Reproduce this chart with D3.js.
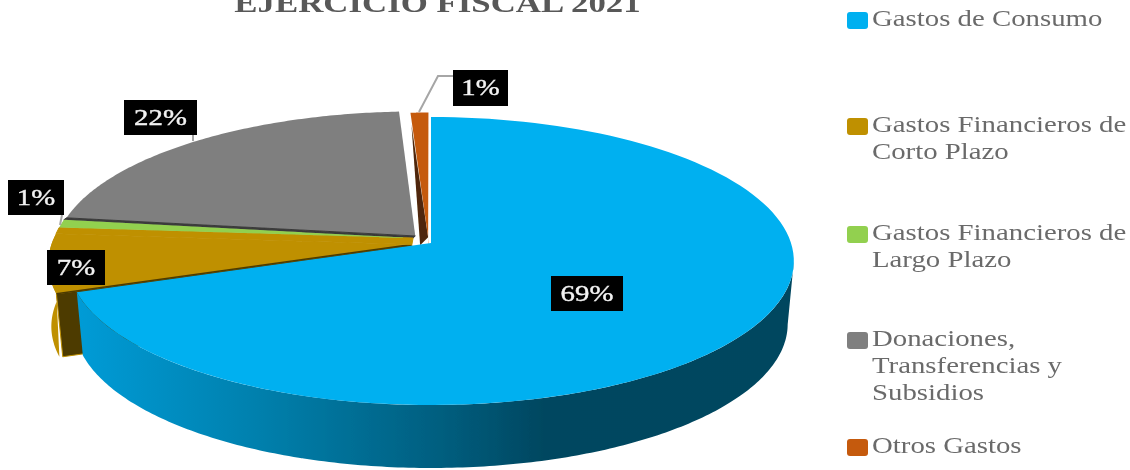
<!DOCTYPE html>
<html>
<head>
<meta charset="utf-8">
<script src="https://cdn.jsdelivr.net/npm/d3@7"></script>
<style>
	html, body { margin: 0; padding: 0; background: #fff; overflow: hidden; }
	svg { display: block; }
	text { font-family: "Liberation Serif", serif; }
</style>
</head>
<body>
<svg id="chart" width="1130" height="470"></svg>
<script>
const categories = ["Gastos de Consumo", "Gastos Financieros de Corto Plazo", "Gastos Financieros de Largo Plazo", "Donaciones, Transferencias y Subsidios", "Otros Gastos"];
const legendLines = [["Gastos de Consumo"], ["Gastos Financieros de", "Corto Plazo"], ["Gastos Financieros de", "Largo Plazo"], ["Donaciones,", "Transferencias y", "Subsidios"], ["Otros Gastos"]];
const values = [69.6, 6.6, 0.9, 22.0, 0.9];
const percentLabels = ["69%", "7%", "1%", "22%", "1%"];
const colors = ["#00b0f0", "#bf9000", "#92d050", "#7f7f7f", "#c55a11"];
const title = "EJERCICIO FISCAL 2021";

// disc -> screen, a plain perspective so the near side of the pie looks bigger
const cx = 431, cy = 243, R = 360, Rk = 141.75, persp = -0.125;
const depth = 63, shrink = 0.983;
// how far each slice is pulled out, in disc units
const explode = [[0, 0], [-0.053, 0.01], [-0.05, -0.035], [-0.044, -0.05], [-0.008, -0.04]];

function project(u, v) {
	const w = 1 + persp * v;
	return [cx + R * u / w, cy + Rk * v / w];
}
function lower(p, s = shrink) {
	return [cx + (p[0] - cx) * s, p[1] + depth];
}

const root = d3.select("#chart");
const defs = root.append("defs");

// the original is a slightly soft screenshot
defs.append("filter").attr("id", "soft")
	.attr("filterUnits", "userSpaceOnUse")
	.attr("x", 0).attr("y", 0).attr("width", 1130).attr("height", 470)
	.append("feGaussianBlur").attr("stdDeviation", 0.45);

const svg = root.append("g").attr("filter", "url(#soft)");

const sideGrad = defs.append("linearGradient")
	.attr("id", "side")
	.attr("gradientUnits", "userSpaceOnUse")
	.attr("x1", 79).attr("x2", 795).attr("y1", 0).attr("y2", 0);
[[0, "#009bd6"], [0.25, "#0080ad"], [0.5, "#005f80"], [0.65, "#004760"], [1, "#00465f"]].forEach(s => {
	sideGrad.append("stop").attr("offset", s[0]).attr("stop-color", s[1]);
});

const pie = d3.pie().sort(null).value(d => d);
const slices = pie(values).map((d, i) => {
	const off = explode[i];
	const at = a => project(Math.sin(a) + off[0], -Math.cos(a) + off[1]);
	const rim = d3.range(0, 121).map(k => at(d.startAngle + (d.endAngle - d.startAngle) * k / 120));
	return { i: i, start: d.startAngle, end: d.endAngle, at: at, rim: rim, apex: project(off[0], off[1]) };
});

const poly = d3.line();
const last = a => a[a.length - 1];

function fillBetween(a, b, color) {
	svg.append("path")
		.attr("d", poly([a.apex, last(a.rim), b.rim[0], b.apex]) + "Z")
		.attr("fill", color)
		.attr("stroke", color).attr("stroke-width", 1);
}

function drawSlice(s) {
	const color = colors[s.i];

	// outer wall, only the two slices that face us show one
	if (s.i == 0) {
		// start where the rim is widest on the right
		const wall = d3.range(0, 201).map(k => s.at(1.7 + (s.end - 1.7) * k / 200));
		svg.append("path")
			.attr("d", poly(wall.concat(wall.map(p => lower(p)).reverse())) + "Z")
			.attr("fill", "url(#side)");
	}
	if (s.i == 1) {
		svg.append("path")
			.attr("d", poly(s.rim.concat(s.rim.map(p => lower(p, 0.992)).reverse())) + "Z")
			.attr("fill", color);
		// cut face going down from the edge of the slice
		const a = s.rim[0], b = s.apex;
		svg.append("path")
			.attr("d", poly([a, b, lower(b), lower(a)]) + "Z")
			.attr("fill", "#4d3b00")
			.attr("stroke", color);
	}
	if (s.i == 4) {
		const a = s.rim[0], b = s.apex;
		svg.append("path")
			.attr("d", poly([b, lower(b), [b[0] + 3, b[1] + depth]]) + "Z")
			.attr("fill", color);
		svg.append("path")
			.attr("d", poly([[a[0] + 1, a[1] + 12], b, [b[0] - 8, b[1] + 8]]) + "Z")
			.attr("fill", "#4f2808");
	}

	// top face
	svg.append("path")
		.attr("d", poly([s.apex].concat(s.rim)) + "Z")
		.attr("fill", color);

	if (s.i == 1) {
		svg.append("path")
			.attr("d", poly([s.rim[0], s.apex]))
			.attr("stroke", "#4d3b00").attr("stroke-width", 1.5).attr("fill", "none");
	}
}

// back to front
drawSlice(slices[3]);
fillBetween(slices[2], slices[3], "#3a3a3a");
drawSlice(slices[1]);
fillBetween(slices[1], slices[2], colors[1]);
drawSlice(slices[2]);
drawSlice(slices[4]);
drawSlice(slices[0]);

// leader lines and label boxes
const labelBoxes = [[551, 276, 72, 35], [47, 250, 58, 35], [8, 180, 56, 35], [124, 100, 73, 35], [453, 70, 55, 36]];
const leaders = [null, null, [[62, 215], [60, 225]], [[193, 135], [193, 141]], [[453, 76], [438, 76], [419, 112]]];

leaders.forEach(l => {
	if (!l) return;
	svg.append("path").attr("d", poly(l))
		.attr("fill", "none").attr("stroke", "#a6a6a6").attr("stroke-width", 2);
});

labelBoxes.forEach((b, i) => {
	svg.append("rect")
		.attr("x", b[0]).attr("y", b[1]).attr("width", b[2]).attr("height", b[3])
		.attr("fill", "#000");
	svg.append("text")
		.attr("transform", `translate(${b[0] + b[2] / 2},${b[1] + 25}) scale(1.2,1)`)
		.attr("text-anchor", "middle")
		.attr("font-size", 24)
		.attr("stroke", "#f2f2f2").attr("stroke-width", 0.4)
		.attr("fill", "#f2f2f2")
		.text(percentLabels[i]);
});

// title, cut by the top of the page like in the original
svg.append("text")
	.attr("transform", "translate(437.5,12) scale(1.29,1)")
	.attr("text-anchor", "middle")
	.attr("font-size", 27)
	.attr("font-weight", "bold")
	.attr("fill", "#595959")
	.text(title);

// legend
const legendY = [12, 118, 226, 332, 439];
legendLines.forEach((lines, i) => {
	svg.append("rect")
		.attr("x", 847).attr("y", legendY[i]).attr("width", 21).attr("height", 17).attr("rx", 3)
		.attr("fill", colors[i]);
	lines.forEach((t, j) => {
		svg.append("text")
			.attr("transform", `translate(872,${legendY[i] + 14 + j * 27}) scale(1.2,1)`)
			.attr("font-size", 24)
			.attr("fill", "#6b6b6b")
			.text(t);
	});
});
</script>
</body>
</html>
